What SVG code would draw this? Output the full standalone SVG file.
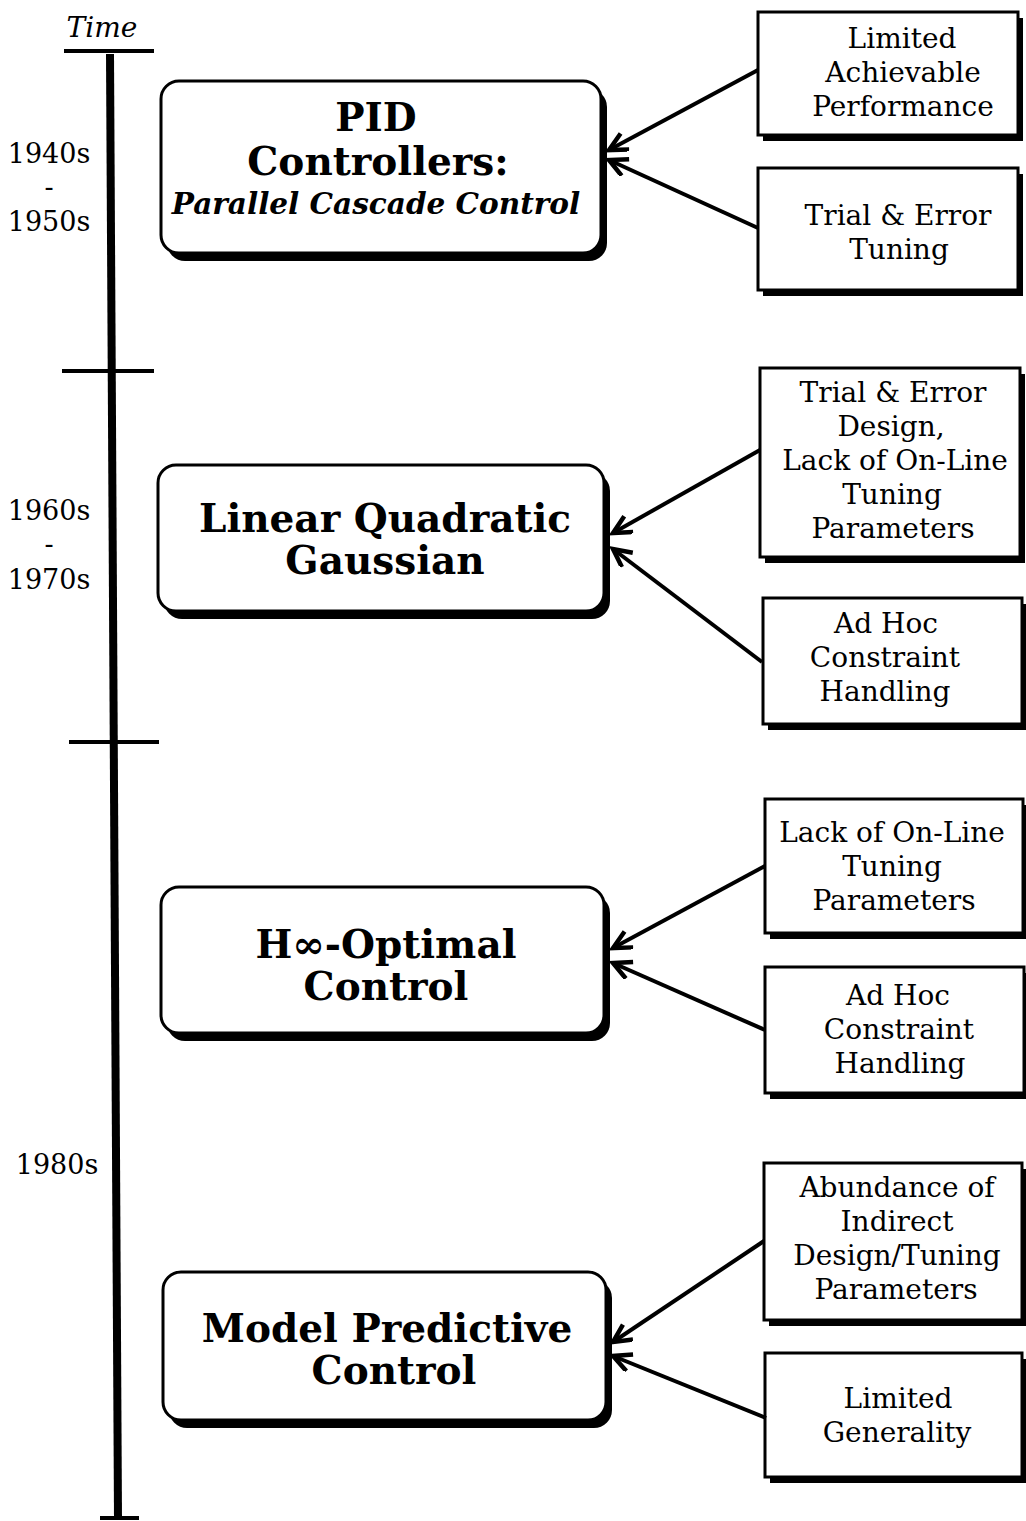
<svg xmlns="http://www.w3.org/2000/svg" width="1026" height="1521" viewBox="0 0 1026 1521">
<style>
.bg{fill:#fff}
.main{fill:#fff;stroke:#000;stroke-width:3}
.msh{fill:#000}
.box{fill:#fff;stroke:#000;stroke-width:3}
.bsh{fill:#000}
.t{font-family:"DejaVu Serif","Liberation Serif",serif;fill:#000;text-anchor:middle}
.bt{font-size:28px}
.mt{font-size:39px;font-weight:bold}
.yr{font-size:27px}
.conn{stroke:#000;stroke-width:4;fill:none;marker-end:url(#ah)}
.axis{stroke:#000;fill:none}
</style>
<defs>
<marker id="ah" markerUnits="userSpaceOnUse" markerWidth="26" markerHeight="22" refX="20" refY="10" orient="auto" viewBox="0 0 26 22">
<path d="M2,1 L20,10 L2,19" fill="none" stroke="#000" stroke-width="4.5" stroke-linejoin="miter"/>
</marker>
</defs>
<rect class="bg" x="0" y="0" width="1026" height="1521"/>

<g id="timeline">
<text class="t" x="102" y="37" font-size="28" font-style="italic">Time</text>
<line class="axis" x1="64" y1="51" x2="154" y2="51" stroke-width="4"/>
<line class="axis" x1="110" y1="54" x2="118" y2="1518" stroke-width="8"/>
<line class="axis" x1="62" y1="371" x2="154" y2="371" stroke-width="4"/>
<line class="axis" x1="69" y1="742" x2="159" y2="742" stroke-width="4"/>
<line class="axis" x1="100" y1="1518" x2="139" y2="1518" stroke-width="4"/>
<text class="t yr" x="49" y="163">1940s</text>
<text class="t yr" x="49" y="196">-</text>
<text class="t yr" x="49" y="231">1950s</text>
<text class="t yr" x="49" y="520">1960s</text>
<text class="t yr" x="49" y="553">-</text>
<text class="t yr" x="49" y="589">1970s</text>
<text class="t yr" x="57" y="1174">1980s</text>
</g>

<g id="pid">
<rect class="msh" x="167" y="89" width="440" height="172" rx="18"/>
<rect class="main" x="161" y="81" width="440" height="172" rx="18"/>
<text class="t mt" x="376" y="131">PID</text>
<text class="t mt" x="378" y="175">Controllers:</text>
<text class="t" x="376" y="214" font-size="29.5" font-weight="bold" font-style="italic">Parallel Cascade Control</text>
</g>

<g id="lqg">
<rect class="msh" x="164" y="473" width="446" height="146" rx="18"/>
<rect class="main" x="158" y="465" width="446" height="146" rx="18"/>
<text class="t mt" x="385" y="532">Linear Quadratic</text>
<text class="t mt" x="385" y="574">Gaussian</text>
</g>

<g id="hinf">
<rect class="msh" x="167" y="895" width="443" height="146" rx="18"/>
<rect class="main" x="161" y="887" width="443" height="146" rx="18"/>
<text class="t mt" x="386" y="958">H∞-Optimal</text>
<text class="t mt" x="386" y="1000">Control</text>
</g>

<g id="mpc">
<rect class="msh" x="169" y="1280" width="443" height="148" rx="18"/>
<rect class="main" x="163" y="1272" width="443" height="148" rx="18"/>
<text class="t mt" x="387" y="1342">Model Predictive</text>
<text class="t mt" x="394" y="1384">Control</text>
</g>

<g id="b1">
<rect class="bsh" x="763" y="18" width="260" height="123"/>
<rect class="box" x="758" y="12" width="260" height="123"/>
<text class="t bt" x="902" y="48">Limited</text>
<text class="t bt" x="903" y="82">Achievable</text>
<text class="t bt" x="903" y="116">Performance</text>
</g>

<g id="b2">
<rect class="bsh" x="763" y="174" width="260" height="122"/>
<rect class="box" x="758" y="168" width="260" height="122"/>
<text class="t bt" x="898" y="225">Trial &amp; Error</text>
<text class="t bt" x="899" y="259">Tuning</text>
</g>

<g id="b3">
<rect class="bsh" x="765" y="374" width="260" height="189"/>
<rect class="box" x="760" y="368" width="260" height="189"/>
<text class="t bt" x="893" y="402">Trial &amp; Error</text>
<text class="t bt" x="891" y="436">Design,</text>
<text class="t bt" x="895" y="470">Lack of On-Line</text>
<text class="t bt" x="892" y="504">Tuning</text>
<text class="t bt" x="893" y="538">Parameters</text>
</g>

<g id="b4">
<rect class="bsh" x="768" y="604" width="259" height="126"/>
<rect class="box" x="763" y="598" width="259" height="126"/>
<text class="t bt" x="886" y="633">Ad Hoc</text>
<text class="t bt" x="885" y="667">Constraint</text>
<text class="t bt" x="885" y="701">Handling</text>
</g>

<g id="b5">
<rect class="bsh" x="770" y="805" width="258" height="134"/>
<rect class="box" x="765" y="799" width="258" height="134"/>
<text class="t bt" x="892" y="842">Lack of On-Line</text>
<text class="t bt" x="892" y="876">Tuning</text>
<text class="t bt" x="894" y="910">Parameters</text>
</g>

<g id="b6">
<rect class="bsh" x="770" y="973" width="259" height="126"/>
<rect class="box" x="765" y="967" width="259" height="126"/>
<text class="t bt" x="898" y="1005">Ad Hoc</text>
<text class="t bt" x="899" y="1039">Constraint</text>
<text class="t bt" x="900" y="1073">Handling</text>
</g>

<g id="b7">
<rect class="bsh" x="769" y="1169" width="258" height="157"/>
<rect class="box" x="764" y="1163" width="258" height="157"/>
<text class="t bt" x="897" y="1197">Abundance of</text>
<text class="t bt" x="897" y="1231">Indirect</text>
<text class="t bt" x="897" y="1265">Design/Tuning</text>
<text class="t bt" x="896" y="1299">Parameters</text>
</g>

<g id="b8">
<rect class="bsh" x="770" y="1359" width="257" height="124"/>
<rect class="box" x="765" y="1353" width="257" height="124"/>
<text class="t bt" x="898" y="1408">Limited</text>
<text class="t bt" x="897" y="1442">Generality</text>
</g>

<g id="connectors">
<line class="conn" x1="758" y1="70" x2="609" y2="150"/>
<line class="conn" x1="758" y1="228" x2="609" y2="160"/>
<line class="conn" x1="760" y1="450" x2="613" y2="533"/>
<line class="conn" x1="762" y1="662" x2="613" y2="549"/>
<line class="conn" x1="765" y1="866" x2="613" y2="948"/>
<line class="conn" x1="765" y1="1030" x2="613" y2="963"/>
<line class="conn" x1="764" y1="1241" x2="613" y2="1342"/>
<line class="conn" x1="766" y1="1418" x2="613" y2="1356"/>
</g>
</svg>
